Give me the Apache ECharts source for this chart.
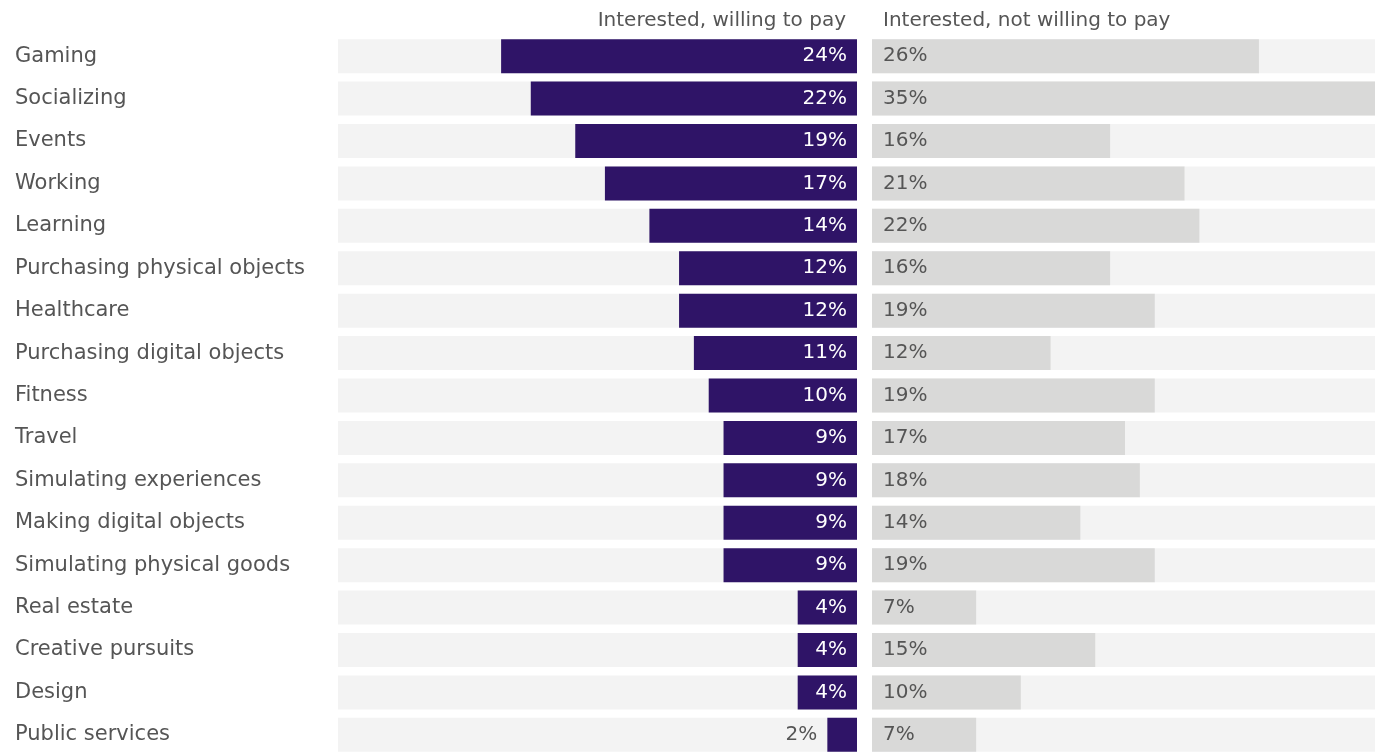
<!DOCTYPE html>
<html>
<head>
    <meta charset="utf-8">
    <title>Interest by use case</title>
    <script src="https://cdn.jsdelivr.net/npm/echarts@6/dist/echarts.min.js"></script>
    <style>
        html, body { margin: 0; padding: 0; background: #fff; }
        #main { width: 1375px; height: 756px; }
    </style>
</head>
<body>
    <div id="main"></div>
    <script type="text/javascript">
        // categories, top to bottom
        var categories = ['Gaming', 'Socializing', 'Events', 'Working', 'Learning',
            'Purchasing physical objects', 'Healthcare', 'Purchasing digital objects',
            'Fitness', 'Travel', 'Simulating experiences', 'Making digital objects',
            'Simulating physical goods', 'Real estate', 'Creative pursuits', 'Design',
            'Public services'];
        // % interested and willing to pay
        var willingPay = [24, 22, 19, 17, 14, 12, 12, 11, 10, 9, 9, 9, 9, 4, 4, 4, 2];
        // % interested but not willing to pay
        var notWillingPay = [26, 35, 16, 21, 22, 16, 19, 12, 19, 17, 18, 14, 19, 7, 15, 10, 7];
        var headers = ['Interested, willing to pay', 'Interested, not willing to pay'];

        var font = '"DejaVu Sans", sans-serif';
        var myChart = echarts.init(document.getElementById('main'));

        // small bars get their label outside
        var leftData = willingPay.map(function (v) {
            if (v < 3) {
                return { value: v, label: { position: 'left', color: '#555', distance: 10 } };
            }
            return v;
        });

        var option = {
            backgroundColor: '#fff',
            animation: false,
            title: [{
                text: headers[0],
                right: 1375 - 851,
                top: 6,
                textStyle: { fontFamily: font, fontSize: 20, fontWeight: 'normal', color: '#555' }
            }, {
                text: headers[1],
                left: 878,
                top: 6,
                textStyle: { fontFamily: font, fontSize: 20, fontWeight: 'normal', color: '#555' }
            }],
            grid: [
                { left: 338, width: 519, top: 35, height: 724.5 },
                { left: 872, width: 503, top: 35, height: 724.5 }
            ],
            xAxis: [
                { gridIndex: 0, type: 'value', min: 0, max: 35, inverse: true, show: false },
                { gridIndex: 1, type: 'value', min: 0, max: 33.8, show: false }
            ],
            yAxis: [{
                gridIndex: 0,
                type: 'category',
                data: categories,
                inverse: true,
                axisLine: { show: false },
                axisTick: { show: false },
                axisLabel: {
                    align: 'left',
                    margin: 323,
                    fontFamily: font,
                    fontSize: 21,
                    color: '#555'
                }
            }, {
                gridIndex: 1,
                type: 'category',
                data: categories,
                inverse: true,
                show: false
            }],
            series: [{
                name: headers[0],
                type: 'bar',
                xAxisIndex: 0,
                yAxisIndex: 0,
                data: leftData,
                barWidth: 34,
                itemStyle: { color: '#2f1467' },
                showBackground: true,
                backgroundStyle: { color: '#f3f3f3' },
                label: {
                    show: true,
                    position: 'insideRight',
                    distance: 10,
                    formatter: '{c}%',
                    fontFamily: font,
                    fontSize: 20,
                    color: '#fff'
                }
            }, {
                name: headers[1],
                type: 'bar',
                xAxisIndex: 1,
                yAxisIndex: 1,
                data: notWillingPay,
                barWidth: 34,
                clip: true,
                itemStyle: { color: '#d9d9d8' },
                showBackground: true,
                backgroundStyle: { color: '#f3f3f3' },
                label: {
                    show: true,
                    position: 'insideLeft',
                    distance: 11,
                    formatter: '{c}%',
                    fontFamily: font,
                    fontSize: 20,
                    color: '#555'
                }
            }]
        };

        myChart.setOption(option);
    </script>
</body>
</html>
